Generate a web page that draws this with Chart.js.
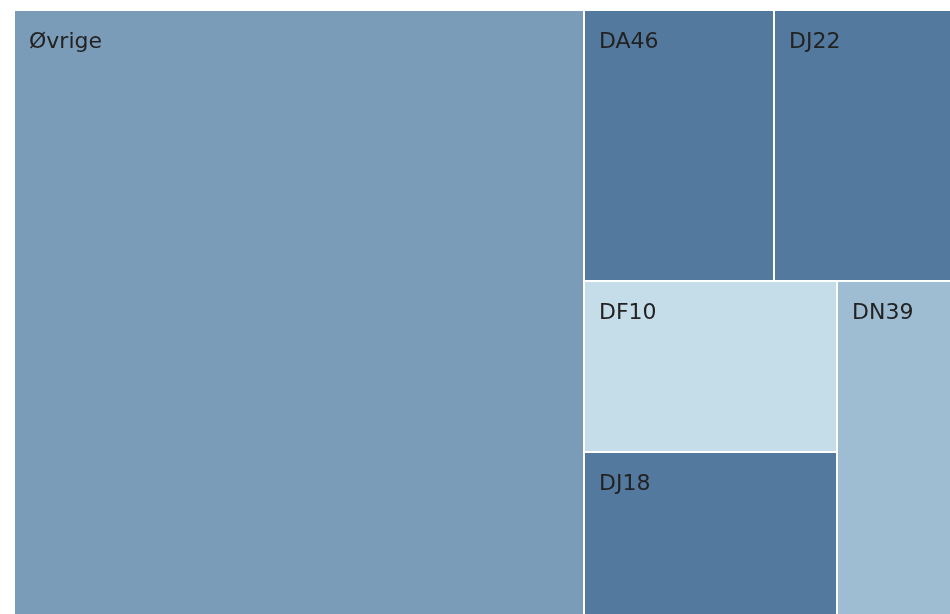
<!DOCTYPE html>
<html>
<head>
<meta charset="utf-8">
<script src="https://cdn.jsdelivr.net/npm/chart.js@4/dist/chart.umd.min.js"></script>
<style>
    html, body { margin: 0; padding: 0; background: #fff; }
    #wrap { width: 950px; height: 614px; }
</style>
</head>
<body>
<div id="wrap"><canvas id="myChart"></canvas></div>
<script>
var labels = ['Øvrige', 'DA46', 'DJ22', 'DF10', 'DJ18', 'DN39'];
var values = [60.86, 9.10, 8.43, 7.67, 7.27, 6.67];
var cellColors = ['#7a9cb8', '#53799e', '#53799e', '#c5dce9', '#53799e', '#9ebcd2'];

// worst aspect ratio of a row laid along a side of given length (pixels)
function worst(row, sum, side, unit) {
    var max = Math.max.apply(null, row) * unit;
    var min = Math.min.apply(null, row) * unit;
    var s2 = side * side, sum2 = sum * sum;
    return Math.max(s2 * max / sum2, sum2 / (s2 * min));
}

// squarified layout on the unit square, ratios judged in screen pixels
function squarify(vals, kx, ky) {
    var total = vals.reduce(function (a, b) { return a + b; }, 0);
    var unit = kx * ky / total;
    var x0 = 0, y0 = 0, x1 = 1, y1 = 1;
    var out = [];
    var i = 0;
    while (i < vals.length) {
        var w = (x1 - x0) * kx, h = (y1 - y0) * ky;
        var side = Math.min(w, h);
        var end = i + 1, sum = vals[i] * unit;
        var best = worst(vals.slice(i, end), sum, side, unit);
        while (end < vals.length) {
            var s2 = sum + vals[end] * unit;
            var r2 = worst(vals.slice(i, end + 1), s2, side, unit);
            if (r2 > best) break;
            best = r2; sum = s2; end++;
        }
        var t = sum / side;
        var j;
        if (w >= h) {
            var tx = t / kx, yy = y0;
            for (j = i; j < end; j++) {
                var hh = vals[j] * unit / t / ky;
                out.push({ x0: x0, x1: x0 + tx, y0: yy, y1: yy + hh, idx: j });
                yy += hh;
            }
            x0 += tx;
        } else {
            var ty = t / ky, xx = x0;
            for (j = i; j < end; j++) {
                var ww = vals[j] * unit / t / kx;
                out.push({ x0: xx, x1: xx + ww, y0: y0, y1: y0 + ty, idx: j });
                xx += ww;
            }
            y0 += ty;
        }
        i = end;
    }
    return out;
}

var treemapPlugin = {
    id: 'treemapCells',
    afterDatasetsDraw: function (chart) {
        var ctx = chart.ctx;
        var xs = chart.scales.x, ys = chart.scales.y;
        var ds = chart.data.datasets[0];
        var kx = Math.abs(xs.getPixelForValue(1) - xs.getPixelForValue(0));
        var ky = Math.abs(ys.getPixelForValue(1) - ys.getPixelForValue(0));
        var cells = squarify(ds.tree, kx, ky);
        var eps = 1e-6;

        ctx.save();
        cells.forEach(function (c) {
            var left = Math.round(xs.getPixelForValue(c.x0));
            var right = Math.round(xs.getPixelForValue(c.x1));
            var top = Math.round(ys.getPixelForValue(c.y0));
            var bottom = Math.round(ys.getPixelForValue(c.y1));
            // white 2px gutter between neighbouring cells
            if (c.x0 > eps) left += 1;
            if (c.x1 < 1 - eps) right -= 1;
            if (c.y0 > eps) top += 1;
            if (c.y1 < 1 - eps) bottom -= 1;

            ctx.fillStyle = ds.backgroundColor[c.idx];
            ctx.fillRect(left, top, right - left, bottom - top);

            ctx.fillStyle = '#222';
            ctx.font = '22px "DejaVu Sans"';
            ctx.textBaseline = 'alphabetic';
            ctx.textAlign = 'left';
            ctx.fillText(ds.labels[c.idx], left + 14, top + 37);
        });
        ctx.restore();
    }
};

new Chart('myChart', {
    type: 'scatter',
    data: {
        datasets: [{
            data: [],
            tree: values,
            labels: labels,
            backgroundColor: cellColors
        }]
    },
    options: {
        responsive: true,
        maintainAspectRatio: false,
        animation: false,
        layout: {
            padding: { left: 15, top: 11, right: 0, bottom: 0 }
        },
        plugins: {
            legend: { display: false },
            tooltip: { enabled: false }
        },
        scales: {
            x: { type: 'linear', min: 0, max: 1, display: false },
            y: { type: 'linear', min: 0, max: 1, reverse: true, display: false }
        }
    },
    plugins: [treemapPlugin]
});
</script>
</body>
</html>
